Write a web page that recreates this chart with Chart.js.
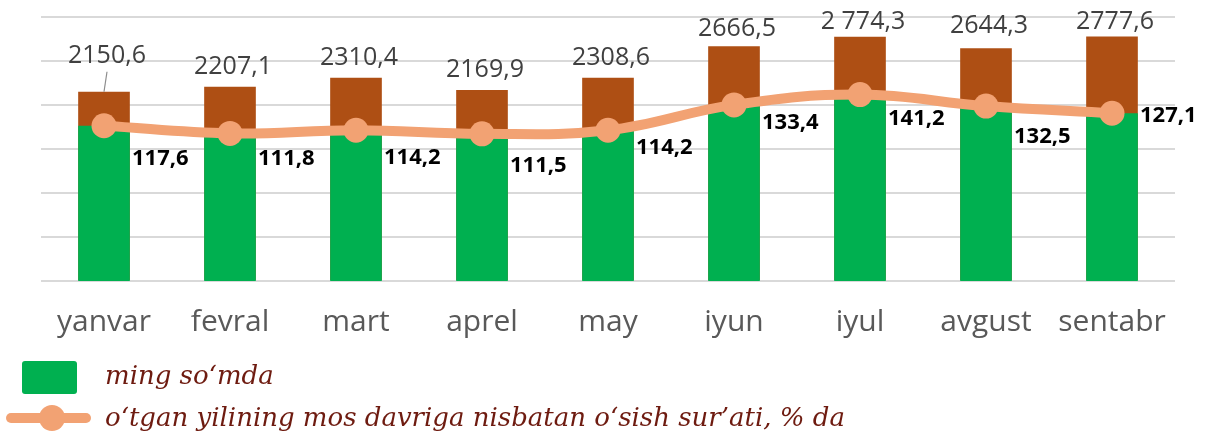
<!DOCTYPE html>
<html><head><meta charset="utf-8">
<script src="https://cdn.jsdelivr.net/npm/chart.js@4/dist/chart.umd.min.js"></script>
<style>
html,body{margin:0;padding:0;background:#fff;}
#wrap{position:relative;width:1208px;height:434px;overflow:hidden;}
canvas{position:absolute;left:0;top:0;}
.lg{position:absolute;font-family:"DejaVu Serif";font-style:italic;font-size:26px;color:#6E1B10;white-space:nowrap;line-height:30px;}
</style></head>
<body><div id="wrap"><canvas id="c" width="1208" height="434"></canvas>
<div style="position:absolute;left:22px;top:361px;width:55px;height:33px;background:#00B050;border-radius:3px;"></div>
<div class="lg" style="left:105px;top:360px;">ming so‘mda</div>
<div style="position:absolute;left:6px;top:413px;width:85px;height:10px;background:#F2A273;border-radius:5px;"></div>
<div style="position:absolute;left:39px;top:405px;width:26px;height:26px;background:#F2A273;border-radius:50%;"></div>
<div class="lg" style="left:105px;top:402px;">o‘tgan yilining mos davriga nisbatan o‘sish sur’ati, % da</div>
</div>
<script>
const months = ['yanvar','fevral','mart','aprel','may','iyun','iyul','avgust','sentabr'];
const wageValues = [2150.6, 2207.1, 2310.4, 2169.9, 2308.6, 2666.5, 2774.3, 2644.3, 2777.6];
const wageLabels = ['2150,6','2207,1','2310,4','2169,9','2308,6','2666,5','2 774,3','2644,3','2777,6'];
const growthPct = [117.6, 111.8, 114.2, 111.5, 114.2, 133.4, 141.2, 132.5, 127.1];
const growthLabels = ['117,6','111,8','114,2','111,5','114,2','133,4','141,2','132,5','127,1'];

const labelPlugin = {
  id: 'valueLabels',
  afterDatasetsDraw(chart, args, opts) {
    const ctx = chart.ctx;
    ctx.save();
    const barMeta = chart.getDatasetMeta(0);
    ctx.font = '25px "Open Sans"';
    ctx.fillStyle = '#404040';
    ctx.textAlign = 'center';
    ctx.textBaseline = 'middle';
    barMeta.data.forEach((el, i) => {
      const lift = opts.topLift[i];
      const ly = el.y - lift;
      ctx.fillText(wageLabels[i], el.x + 3, ly);
      if (lift > 25) {
        ctx.strokeStyle = '#8c8c8c';
        ctx.lineWidth = 1.2;
        ctx.beginPath();
        ctx.moveTo(el.x + 3, ly + 16);
        ctx.lineTo(el.x, el.y);
        ctx.stroke();
      }
    });
    const lineMeta = chart.getDatasetMeta(2);
    ctx.font = 'bold 22px "Open Sans"';
    ctx.fillStyle = '#000';
    ctx.textAlign = 'left';
    lineMeta.data.forEach((el, i) => {
      ctx.fillText(growthLabels[i], el.x + 28, el.y + opts.lineDy[i]);
    });
    ctx.restore();
  }
};

new Chart(document.getElementById('c'), {
  type: 'bar',
  data: {
    labels: months,
    datasets: [
      {label: 'jami', data: wageValues, yAxisID: 'y', backgroundColor: '#AE4F14', grouped: false, order: 3,
       barPercentage: 0.41, categoryPercentage: 1},
      {label: 'ming so‘mda', data: growthPct, yAxisID: 'y1', backgroundColor: '#00B050', grouped: false, order: 2,
       barPercentage: 0.41, categoryPercentage: 1},
      {type: 'line', label: 'o‘tgan yilining mos davriga nisbatan o‘sish sur’ati, % da', data: growthPct, yAxisID: 'y1',
       borderColor: '#F2A273', backgroundColor: '#F2A273', borderWidth: 10, tension: 0.4,
       pointRadius: 12.5, pointBackgroundColor: '#F2A273', pointBorderWidth: 0, order: 1}
    ]
  },
  options: {
    responsive: false, animation: false,
    layout: {padding: {left: 41, right: 33, top: 17, bottom: 0}},
    plugins: {
      legend: {display: false}, tooltip: {enabled: false},
      valueLabels: {
        topLift: [36, 20, 20, 20, 20, 17, 15, 22, 15],
        lineDy: [33, 25, 27, 32, 17, 18, 24, 31, 3]
      }
    },
    scales: {
      x: {
        grid: {display: false}, border: {display: false},
        ticks: {font: {family: 'Open Sans', size: 30}, color: '#595959', padding: 15, maxRotation: 0},
        afterFit(s) { s.height = 153; }
      },
      y: {
        min: 0, max: 3000, ticks: {display: false, stepSize: 500},
        grid: {color: '#D9D9D9', lineWidth: 2, drawTicks: false}, border: {display: false},
        afterFit(s) { s.width = 0; }
      },
      y1: {min: 0, max: 200, display: false}
    }
  },
  plugins: [labelPlugin]
});
</script></body></html>
